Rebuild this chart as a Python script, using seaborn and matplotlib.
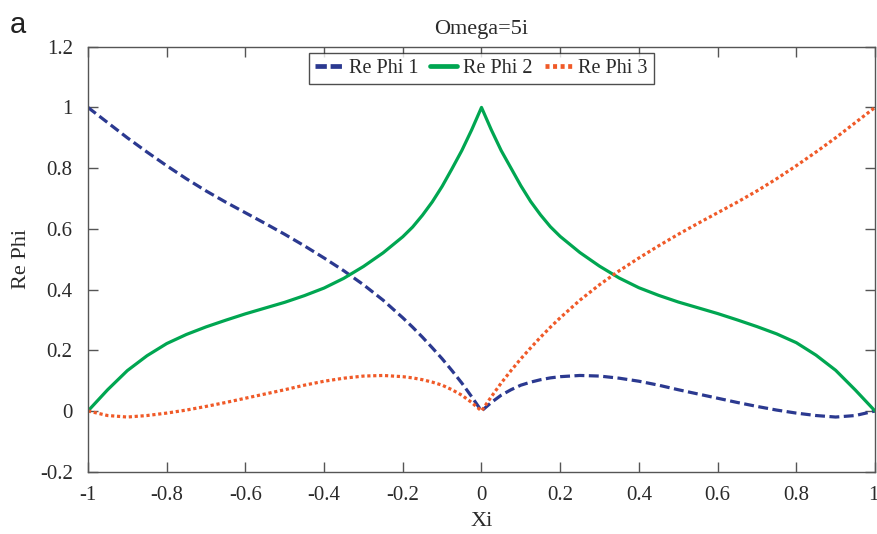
import matplotlib
matplotlib.use("Agg")
import matplotlib.pyplot as plt
import matplotlib.transforms as mtransforms
import seaborn as sns
import pandas as pd
from matplotlib.lines import Line2D

xi = [-1.00, -0.95, -0.90, -0.85, -0.80, -0.75, -0.70, -0.65, -0.60, -0.55,
      -0.50, -0.45, -0.40, -0.35, -0.30, -0.25, -0.20, -0.175, -0.15, -0.125,
      -0.10, -0.075, -0.05, -0.025,
      0.00, 0.025, 0.05, 0.075, 0.10, 0.125, 0.15, 0.175, 0.20, 0.25, 0.30,
      0.35, 0.40, 0.45, 0.50, 0.55, 0.60, 0.65, 0.70, 0.75, 0.80, 0.85, 0.90,
      0.95, 1.00]

re_phi1 = [1.000, 0.950, 0.900, 0.853, 0.808, 0.765, 0.725, 0.688, 0.653, 0.618,
           0.582, 0.544, 0.504, 0.462, 0.416, 0.365, 0.307, 0.276, 0.243, 0.208,
           0.172, 0.133, 0.092, 0.047,
           0.000, 0.028, 0.052, 0.070, 0.085, 0.095, 0.103, 0.109, 0.113, 0.117, 0.115,
           0.108, 0.098, 0.085, 0.070, 0.056, 0.042, 0.028, 0.015, 0.003, -0.007, -0.015, -0.020,
           -0.015, 0.000]

re_phi2 = [0.000, 0.070, 0.133, 0.182, 0.222, 0.252, 0.277, 0.299, 0.320, 0.339,
           0.358, 0.380, 0.405, 0.437, 0.476, 0.521, 0.574, 0.606, 0.645, 0.689,
           0.740, 0.798, 0.858, 0.926,
           1.000, 0.926, 0.858, 0.800, 0.742, 0.690, 0.646, 0.607, 0.575, 0.522, 0.477,
           0.438, 0.406, 0.381, 0.359, 0.340, 0.321, 0.300, 0.278, 0.254, 0.225, 0.184, 0.134,
           0.069, 0.000]

re_phi3 = [0.000, -0.015, -0.020, -0.015, -0.007, 0.003, 0.015, 0.028, 0.042, 0.056,
           0.070, 0.085, 0.098, 0.108, 0.115, 0.117, 0.113, 0.109, 0.103, 0.095,
           0.085, 0.070, 0.052, 0.028,
           0.000, 0.047, 0.092, 0.133, 0.172, 0.208, 0.243, 0.276, 0.307, 0.365, 0.416,
           0.462, 0.504, 0.544, 0.582, 0.618, 0.653, 0.688, 0.725, 0.765, 0.808, 0.853, 0.900,
           0.950, 1.000]

series_names = ["Re Phi 1", "Re Phi 2", "Re Phi 3"]
colors = {"Re Phi 1": "#2b3990", "Re Phi 2": "#00a651", "Re Phi 3": "#f05a28"}
dash_styles = {"Re Phi 1": (3.1, 1.4), "Re Phi 2": "", "Re Phi 3": (1.0, 0.85)}

x_ticks = [-1, -0.8, -0.6, -0.4, -0.2, 0, 0.2, 0.4, 0.6, 0.8, 1]
x_tick_labels = ["-1", "-0.8", "-0.6", "-0.4", "-0.2", "0", "0.2", "0.4", "0.6", "0.8", "1"]
y_ticks = [-0.2, 0, 0.2, 0.4, 0.6, 0.8, 1, 1.2]
y_tick_labels = ["-0.2", "0", "0.2", "0.4", "0.6", "0.8", "1", "1.2"]

frames = []
for name, vals in zip(series_names, [re_phi1, re_phi2, re_phi3]):
    frames.append(pd.DataFrame({"Xi": xi, "Re Phi": vals, "series": name}))
df = pd.concat(frames, ignore_index=True)

sns.set_theme(style="white")
plt.rcParams["font.family"] = ["Liberation Serif", "DejaVu Serif"]
plt.rcParams["lines.dash_capstyle"] = "butt"

fig = plt.figure(figsize=(8.78, 5.34), dpi=100)
ax = fig.add_axes([0.1002, 0.1167, 0.8964, 0.7958])

sns.lineplot(data=df, x="Xi", y="Re Phi", hue="series", style="series",
             palette=colors, dashes=dash_styles, estimator=None, sort=False,
             linewidth=2.3, legend=False, ax=ax)

ax.set_xlim(-1, 1)
ax.set_ylim(-0.2, 1.2)
ax.set_xticks(x_ticks)
ax.set_xticklabels(x_tick_labels)
ax.set_yticks(y_ticks)
ax.set_yticklabels(y_tick_labels)

text_col = "#2a2a2a"
spine_col = "#555555"
for s in ax.spines.values():
    s.set_color(spine_col)
    s.set_linewidth(1.0)
ax.tick_params(axis="both", which="major", direction="in", length=7, width=1.0,
               color=spine_col, labelsize=15, labelcolor=text_col,
               top=True, right=True, bottom=True, left=True)
ax.tick_params(axis="x", pad=10)
ax.tick_params(axis="y", pad=11)

# keep the rightmost tick label inside the canvas
last = ax.get_xticklabels()[-1]
last.set_transform(last.get_transform() +
                   mtransforms.ScaledTranslation(-2 / 100, 0, fig.dpi_scale_trans))

ax.set_xlabel("Xi", fontsize=16, color=text_col, labelpad=5)
ax.set_ylabel("Re Phi", fontsize=16, color=text_col, labelpad=6)
ax.set_title("Omega=5i", fontsize=16, color=text_col, pad=9)

handles = []
for n in series_names:
    h = Line2D([0], [0], color=colors[n], linewidth=3.4, dash_capstyle="butt")
    handles.append(h)
handles[0].set_dashes((2.4, 0.8))
handles[2].set_dashes((0.85, 0.75))
leg = ax.legend(handles, series_names, loc="upper center", bbox_to_anchor=(0.5, 1.0),
                ncol=3, frameon=True, fancybox=False, fontsize=14.5,
                handlelength=1.35, handletextpad=0.3, columnspacing=0.6,
                borderpad=0.3, borderaxespad=0.3)
leg.get_frame().set_edgecolor("#222222")
leg.get_frame().set_linewidth(1.0)
for t in leg.get_texts():
    t.set_color(text_col)

fig.text(0.011, 1 - 33 / 534, "a", fontsize=21, va="baseline",
         family=["Liberation Sans", "DejaVu Sans"], color="#222222")

fig.savefig("out.png", dpi=100)
